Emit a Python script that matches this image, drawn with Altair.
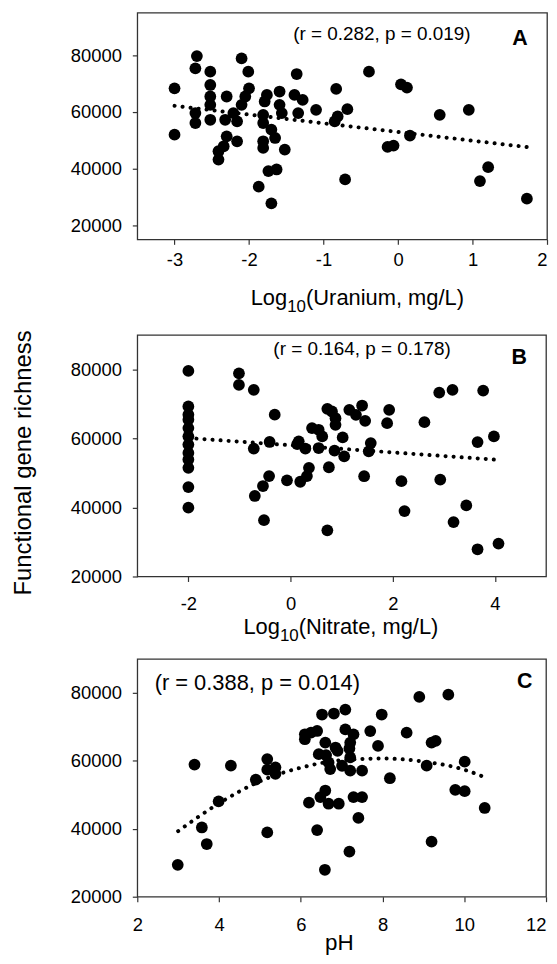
import altair as alt
import pandas as pd

FONT = "Liberation Sans"

# ---------------- data ----------------
# Panel A: Log10(Uranium, mg/L) vs functional gene richness
uranium_log = [-3.0, -3.0, -2.7, -2.72, -2.72, -2.72, -2.52, -2.52, -2.52, -2.52, -2.52,
               -2.3, -2.32, -2.21, -2.16, -2.1, -2.01, -2.0, -2.05, -2.1, -2.3, -2.16,
               -2.34, -2.41, -2.41, -1.76, -1.79, -1.59, -1.59, -1.81, -1.81, -1.7, -1.65,
               -1.56, -1.81, -1.81, -1.52, -1.74, -1.63, -1.87, -1.7, -1.36, -1.39, -1.28,
               -1.34, -1.1, -0.83, -0.81, -0.85, -0.68, -0.71, -0.39, 0.04, 0.12, -0.14,
               -0.06, 0.16, 0.56, 0.95, 1.1, 1.21, 1.73]
richness_a = [68300, 51930, 79650, 75330, 59540, 56040, 74170, 69470, 65400, 62460, 57190,
              65400, 57190, 59540, 56630, 78830, 74170, 68300, 65400, 62460, 51350, 49600,
              47840, 46090, 43160, 65960, 63650, 67160, 62460, 58950, 56040, 53700, 50770,
              59540, 49610, 47250, 46680, 39090, 39650, 33580, 27720, 73330, 65960, 64210,
              59540, 60700, 68070, 58360, 56600, 60940, 36140, 74150, 69710, 68540, 47600,
              48070, 51580, 58950, 60700, 35560, 40470, 29360]
trend_a_x = [-3.0, 1.75]
trend_a_y = [62100, 47500]

# Panel B: Log10(Nitrate, mg/L)
nitrate_log = [-2, -2, -2, -2, -2, -2, -2, -2, -2, -2, -2, -2,
               -1.01, -1.01, -0.72, -0.31, -0.72, -0.41, -0.42, -0.54, -0.70, -0.52,
               -0.07, 0.19, 0.32, 0.36, 0.16, 0.29, 0.13, 0.42, 0.55, 0.62, 0.55, 0.72,
               0.81, 0.88, 0.88, 0.75, 0.86, 1.02, 1.05, 0.72, 1.15, 1.28, 1.40, 1.46,
               1.57, 1.53, 1.44, 1.93, 1.89, 2.17, 2.23, 2.62, 2.91, 3.17, 2.93, 3.19,
               3.44, 3.77, 3.66, 3.98, 3.66, 4.07]
richness_b = [79540, 69250, 66860, 65420, 63000, 60600, 58210, 55790, 53890, 51470, 45910, 39940,
              78850, 75500, 74060, 66860, 57060, 58960, 49080, 46200, 43320, 36310,
              47840, 47440, 49080, 51470, 59160, 57060, 58360, 62980, 62500, 60580, 57210, 68560,
              67790, 65870, 63940, 51640, 56440, 60290, 54810, 33370, 68270, 66830, 69520, 65100,
              58650, 56250, 49040, 68270, 64420, 47600, 38940, 64710, 73270, 74040, 48080, 35770,
              40580, 73850, 58940, 60580, 27880, 29520]
trend_b_x = [-2.0, 4.0]
trend_b_y = [60100, 53850]

# Panel C: pH
ph = [2.99, 3.40, 3.58, 3.70, 3.99, 4.29, 4.90, 5.18, 5.18, 5.38, 5.38, 5.18, 6.10, 6.10,
      6.25, 6.40, 6.20, 6.40, 6.52, 6.81, 7.09, 6.60, 6.85, 6.44, 6.62, 6.68, 6.72, 6.90,
      6.48, 6.60, 6.68, 6.93, 6.59, 7.09, 7.29, 7.21, 7.19, 7.21, 7.01, 7.21, 7.50, 7.29,
      7.50, 7.41, 7.19, 7.70, 7.98, 7.89, 8.18, 8.59, 8.90, 9.61, 9.20, 9.30, 9.08, 9.20,
      10.01, 9.78, 10.01, 10.50]
richness_c = [29390, 58880, 40390, 35520, 48080, 58590, 54500, 60540, 57420, 58100, 56160, 38930, 67840, 66380,
              68320, 68810, 47690, 39610, 73660, 73950, 75120, 65400, 63940, 61990, 61700, 59560, 57600, 62970,
              49340, 51270, 47380, 47380, 27930, 69280, 67820, 65400, 63650, 61020, 58570, 57110, 57110, 49340,
              49340, 43210, 33280, 68790, 73660, 64410, 54890, 68320, 78830, 79510, 65400, 65890, 58590, 36210,
              59760, 51480, 51090, 46130]
trend_c_x = [3.0, 4.0, 5.0, 6.0, 7.0, 8.0, 9.0, 10.0, 10.5]
trend_c_y = [39320, 47500, 54000, 58000, 60200, 60700, 59800, 57400, 55200]

# text
stats_a = "(r = 0.282, p = 0.019)"
stats_b = "(r = 0.164, p = 0.178)"
stats_c = "(r = 0.388, p = 0.014)"
letters = ["A", "B", "C"]
xtitle_a = ["Log", "10", "(Uranium, mg/L)"]
xtitle_b = ["Log", "10", "(Nitrate, mg/L)"]
xtitle_c = "pH"
ytitle = "Functional gene richness"

y_ticks = [20000, 40000, 60000, 80000]
x_ticks_a = [-3, -2, -1, 0, 1, 2]
x_ticks_b = [-2, 0, 2, 4]
x_ticks_c = [2, 4, 6, 8, 10, 12]

FRAME = "#333333"


def txt(s, x, y, size, align="center", bold=False):
    return alt.Chart(pd.DataFrame({"t": [s]})).mark_text(
        align=align, baseline="alphabetic", fontSize=size, font=FONT,
        fontWeight="bold" if bold else "normal", color="black"
    ).encode(x=alt.value(x), y=alt.value(y), text="t:N")


def panel(xs, ys, tx, ty, xdom, ydom, xticks, w, h, xlabpad, texts, smooth=False, with_ytitle=False):
    pts = pd.DataFrame({"x": xs, "y": ys})
    trend = pd.DataFrame({"x": tx, "y": ty})
    yaxis_kw = dict(values=y_ticks, format="d", tickSize=5, labelPadding=11, labelFontSize=18.5,
                    labelFont=FONT, labelColor="black", domain=False, grid=False, tickColor=FRAME,
                    tickWidth=1.2)
    if with_ytitle:
        yaxis = alt.Axis(title=ytitle, titleFont=FONT, titleFontSize=24, titleFontWeight="normal",
                         titleColor="black", titleX=-107.5, titleY=128.3, titleAngle=270,
                         titleBaseline="alphabetic", titleAlign="center", **yaxis_kw)
    else:
        yaxis = alt.Axis(title=None, **yaxis_kw)
    xmax = xdom[1]
    xaxis = alt.Axis(title=None, values=xticks, tickSize=5, labelPadding=xlabpad,
                     labelExpr="'' + datum.value",
                     labelAlign=alt.expr(f"datum.value == {xmax} ? 'right' : 'center'"),
                     labelFontSize=18.5, labelFont=FONT, labelColor="black", domain=False,
                     grid=False, tickColor=FRAME, tickWidth=1.2)
    xs_ = alt.X("x:Q", scale=alt.Scale(domain=xdom, nice=False, zero=False), axis=xaxis)
    ys_ = alt.Y("y:Q", scale=alt.Scale(domain=ydom, nice=False, zero=False), axis=yaxis)
    points = alt.Chart(pts).mark_circle(size=140, color="black", opacity=1).encode(x=xs_, y=ys_)
    line = alt.Chart(trend).mark_line(
        color="black", strokeWidth=4, strokeDash=[0.1, 8], strokeCap="round",
        interpolate="monotone" if smooth else "linear"
    ).encode(x="x:Q", y="y:Q")
    layers = [points, line] + texts
    return alt.layer(*layers).properties(
        width=w, height=h, view=alt.ViewConfig(stroke=FRAME, strokeWidth=1.3)
    )


chart_a = panel(uranium_log, richness_a, trend_a_x, trend_a_y, [-3.5, 2], [15000, 95000],
                x_ticks_a, 412, 228, 6,
                [txt(stats_a, 246, 27.7, 19), txt(letters[0], 384.7, 32.7, 21.5, bold=True),
                 txt(xtitle_a[0], 114, 294.3, 22, align="left"),
                 txt(xtitle_a[1], 150.7, 301, 17, align="left"),
                 txt(xtitle_a[2], 169.7, 294.3, 22, align="left")])

chart_b = panel(nitrate_log, richness_b, trend_b_x, trend_b_y, [-3, 5], [20000, 90000],
                x_ticks_b, 411, 243, 13,
                [txt(stats_b, 226, 20.6, 19), txt(letters[1], 384, 29.6, 21.5, bold=True),
                 txt(xtitle_b[0], 106.7, 300.8, 22, align="left"),
                 txt(xtitle_b[1], 143.4, 307.5, 17, align="left"),
                 txt(xtitle_b[2], 162.3, 300.8, 22, align="left")],
                with_ytitle=True)

chart_c = panel(ph, richness_c, trend_c_x, trend_c_y, [2, 12], [20000, 90000],
                x_ticks_c, 411, 239, 14,
                [txt(stats_c, 120.7, 30.7, 22), txt(letters[2], 389.5, 29, 21.5, bold=True),
                 txt(xtitle_c, 203.2, 293, 22.5)],
                smooth=True)

chart = alt.vconcat(
    chart_a,
    alt.vconcat(chart_b, chart_c, spacing=83, bounds="flush"),
    spacing=96, bounds="flush"
).properties(
    padding={"left": 2, "top": 1, "right": 0, "bottom": 0},
    background="white"
).configure_view(stroke=FRAME, strokeWidth=1.3)

chart.save("out.html", embed_options={"renderer": "svg", "actions": False})
